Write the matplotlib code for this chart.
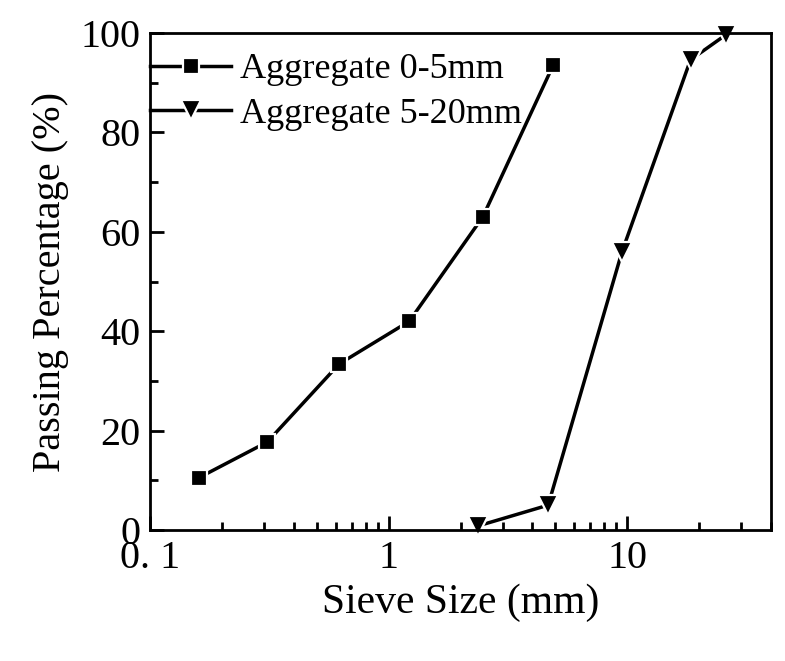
import matplotlib.pyplot as plt
from matplotlib.ticker import FixedLocator, FixedFormatter, LogLocator, MultipleLocator, NullFormatter

plt.rcParams['font.family'] = ['Liberation Serif', 'DejaVu Serif']

# Data
fine_size = [0.16, 0.31, 0.62, 1.22, 2.48, 4.9]
fine_pass = [10.5, 17.7, 33.4, 42.0, 63.0, 93.6]
coarse_size = [2.36, 4.66, 9.5, 18.4, 25.8]
coarse_pass = [0.8, 5.0, 56.0, 94.6, 99.6]
x_ticks = [0.1, 1, 10]
x_tick_labels = ['0. 1', '1', '10']

fig = plt.figure(figsize=(7.85, 6.61), dpi=100)
ax = fig.add_axes([150 / 785, 1 - 530 / 661, 621 / 785, 497 / 661])

common = dict(color='black', lw=2.5, markeredgecolor='white', markeredgewidth=1.6)
ax.plot(fine_size, fine_pass, marker='s', markersize=12, label='Aggregate 0-5mm', **common)
ax.plot(coarse_size, coarse_pass, marker='v', markersize=14, label='Aggregate 5-20mm',
        clip_on=False, **common)

ax.set_xscale('log')
ax.set_xlim(0.1, 40)
ax.set_ylim(0, 100)

ax.xaxis.set_major_locator(FixedLocator(x_ticks))
ax.xaxis.set_major_formatter(FixedFormatter(x_tick_labels))
ax.xaxis.set_minor_locator(LogLocator(base=10, subs=range(2, 10), numticks=20))
ax.xaxis.set_minor_formatter(NullFormatter())
ax.yaxis.set_major_locator(MultipleLocator(20))
ax.yaxis.set_minor_locator(MultipleLocator(10))

ax.tick_params(which='both', direction='in', width=2, labelsize=29, top=False, right=False)
ax.tick_params(which='major', length=10, pad=7)
ax.tick_params(which='minor', length=6)
for s in ax.spines.values():
    s.set_linewidth(2)

ax.set_xlabel('Sieve Size (mm)', fontsize=30, labelpad=5)
ax.set_ylabel('Passing Percentage (%)', fontsize=29, labelpad=8)

leg = ax.legend(loc='upper left', frameon=False, fontsize=26, handlelength=2.25,
                borderaxespad=0.0, borderpad=0.0, labelspacing=0.32, handletextpad=0.25,
                bbox_to_anchor=(0.0, 0.96))

fig.savefig('out.png', dpi=100)
